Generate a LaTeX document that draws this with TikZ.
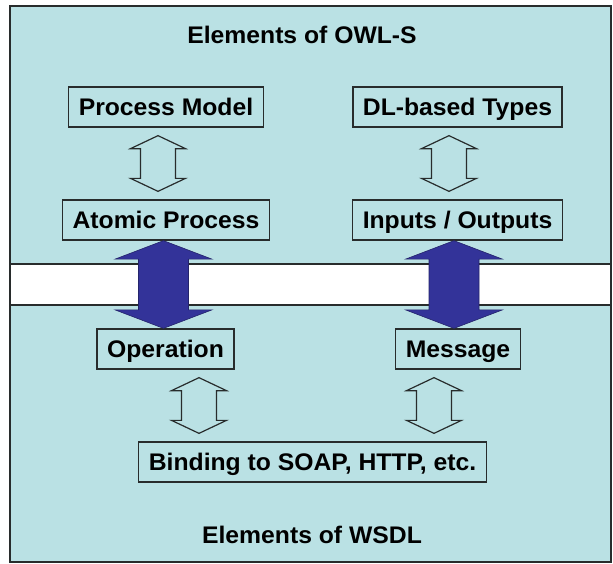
\documentclass[tikz,border=0pt]{standalone}
\usepackage{fontspec}
\setmainfont{Liberation Sans}[FakeStretch=1.03]
\usepackage{tikz}
\usetikzlibrary{calc}
\definecolor{panelblue}{RGB}{186,225,228}
\definecolor{linkblue}{RGB}{51,51,153}
\definecolor{edgegray}{RGB}{40,44,44}
\tikzstyle{box}=[draw=edgegray, line width=1.3pt, inner xsep=10pt, minimum height=40pt, text height=17.2pt, text depth=0pt, font=\fontsize{24}{28}\selectfont\bfseries]
\tikzstyle{caption}=[inner sep=0pt, text height=17.2pt, text depth=0pt, font=\fontsize{24}{28}\selectfont\bfseries]
\tikzstyle{hollow}=[draw=edgegray, line width=1.2pt, line join=miter]
\tikzstyle{bluelink}=[fill=linkblue, draw=linkblue!70!black, line width=0.6pt]
% block double arrow from #2 down to #3: #4 half shaft, #5 half head, #6 head length
\newcommand{\blockarrow}[6]{%
\draw[#1] let \p1=(#2), \p2=(#3) in
  (\x1,\y1) -- (\x1+#5pt,\y1-#6pt) -- (\x1+#4pt,\y1-#6pt) -- (\x1+#4pt,\y2+#6pt)
  -- (\x1+#5pt,\y2+#6pt) -- (\x1,\y2) -- (\x1-#5pt,\y2+#6pt) -- (\x1-#4pt,\y2+#6pt)
  -- (\x1-#4pt,\y1-#6pt) -- (\x1-#5pt,\y1-#6pt) -- cycle;}

\begin{document}
\begin{tikzpicture}[x=1pt,y=-1pt]
\useasboundingbox (0,0) rectangle (613,563);
% panels
\fill[panelblue] (10,6) rectangle (611,562);
\fill[white] (10,264) rectangle (611,305);
\draw[edgegray, line width=1.2pt] (10,264) -- (611,264) (10,305) -- (611,305);
\draw[edgegray, line width=2pt] (10,6) rectangle (611,562);

\node[caption] (owls) at (302,35) {Elements of OWL-S};
\node[caption] (wsdl) at (312,535) {Elements of WSDL};

\node[box] (pm) at (166,107) {Process Model};
\node[box] (dl) at (457.5,107) {DL-based Types};
\node[box] (ap) at (166,220) {Atomic Process};
\node[box] (io) at (457.5,220) {Inputs / Outputs};
\node[box] (op) at (165.5,349) {Operation};
\node[box] (msg) at (458,349) {Message};
\node[box] (bind) at (312.5,462) {Binding to SOAP, HTTP, etc.};

\foreach \a/\b/\dx in {pm/ap/-8,dl/io/-8.5,op/bind/33.5,msg/bind/-24} {
	\coordinate (\a-top) at ($(\a.south)+(\dx,8)$);
	\coordinate (\a-bot) at ($(\b.north)+(0,-8)$);
	\blockarrow{hollow}{\a-top}{\a-bot}{17.5}{27.5}{13}
}
\foreach \a/\b/\dx in {ap/op/-2.5,io/msg/-3.5} {
	\coordinate (\a-top) at ($(\a.south)+(\dx,0)$);
	\blockarrow{bluelink}{\a-top}{\b.north}{25}{48.5}{18.5}
}
\end{tikzpicture}
\end{document}
